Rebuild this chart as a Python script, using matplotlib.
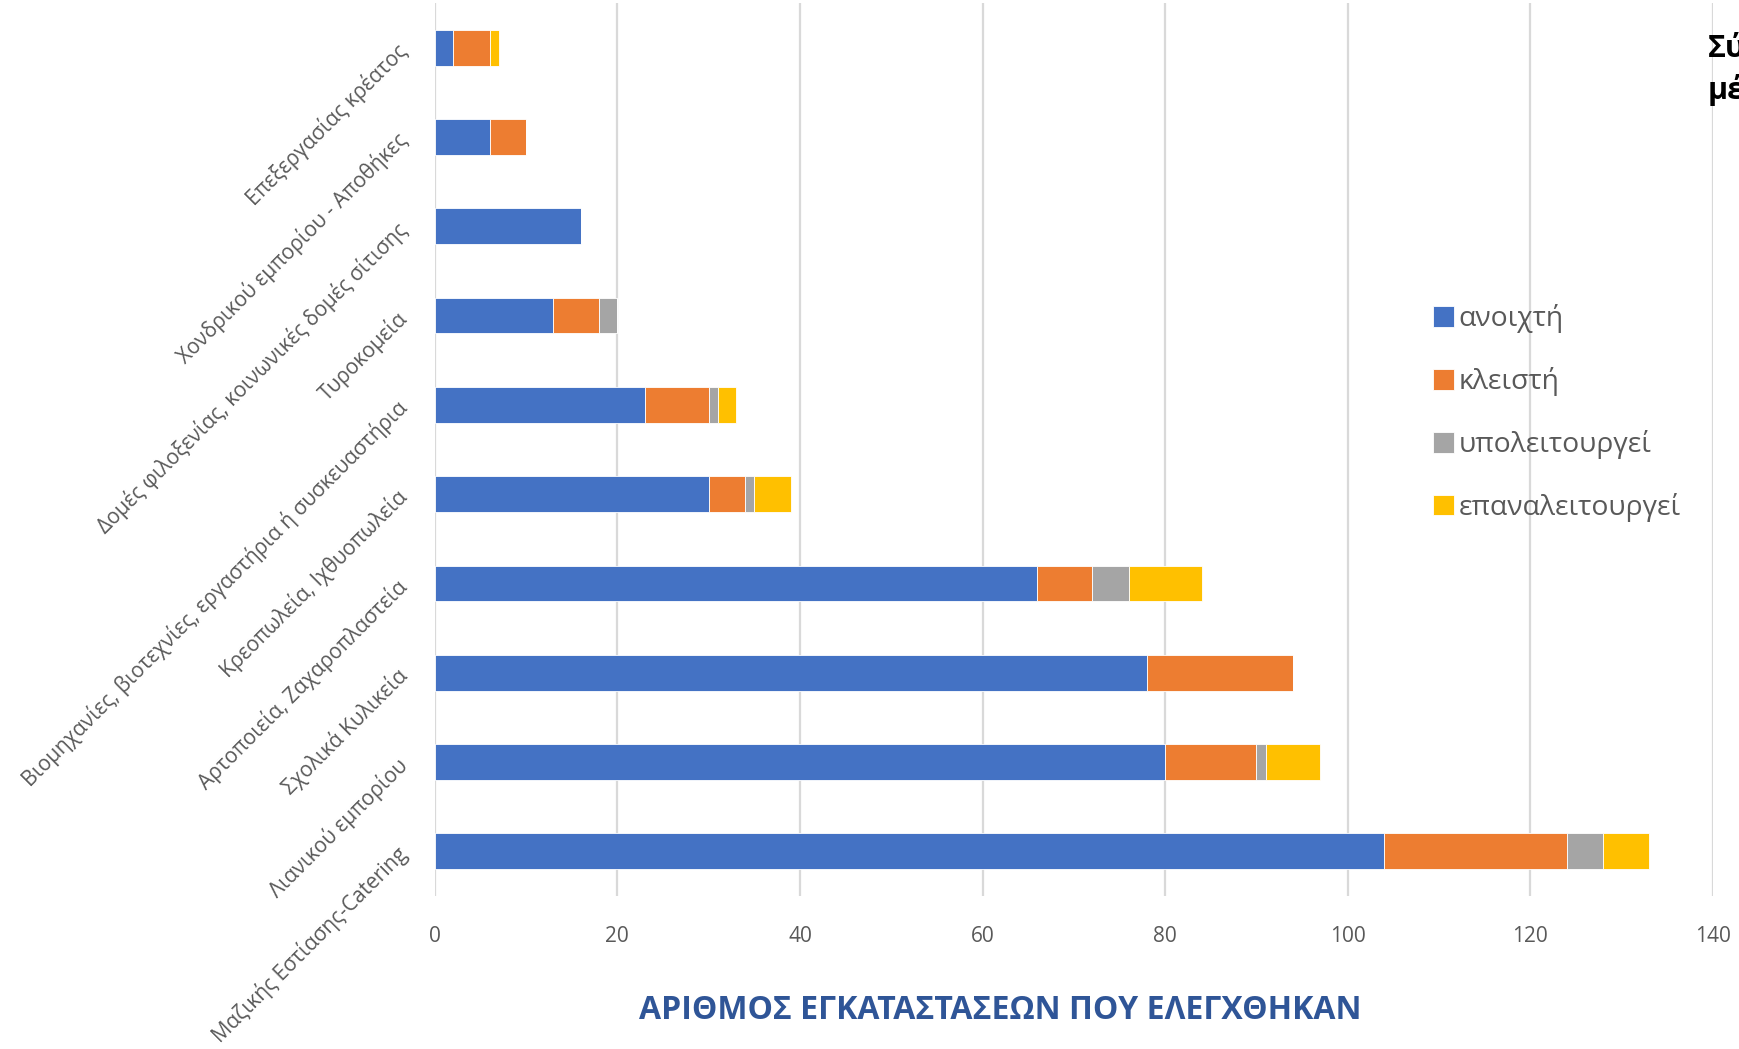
import matplotlib.pyplot as plt
import numpy as np

# categories from bottom to top
categories = ['Μαζικής Εστίασης-Catering', 'Λιανικού εμπορίου', 'Σχολικά Κυλικεία',
              'Αρτοποιεία, Ζαχαροπλαστεία', 'Κρεοπωλεία, Ιχθυοπωλεία',
              'Βιομηχανίες, βιοτεχνίες, εργαστήρια ή συσκευαστήρια', 'Τυροκομεία',
              'Δομές φιλοξενίας, κοινωνικές δομές σίτισης',
              'Χονδρικού εμπορίου - Αποθήκες', 'Επεξεργασίας κρέατος']
series_names = ['ανοιχτή', 'κλειστή', 'υπολειτουργεί', 'επαναλειτουργεί']
anoixti = [104, 80, 78, 66, 30, 23, 13, 16, 6, 2]
kleisti = [20, 10, 16, 6, 4, 7, 5, 0, 4, 4]
ypoleitourgei = [4, 1, 0, 4, 1, 1, 2, 0, 0, 0]
epanaleitourgei = [5, 6, 0, 8, 4, 2, 0, 0, 0, 1]
colors = ['#4472C4', '#ED7D31', '#A5A5A5', '#FFC000']
xticks = [0, 20, 40, 60, 80, 100, 120, 140]


def main():
	fig = plt.figure(figsize=(17.39, 10.49), dpi=100)
	ax = fig.add_axes([0.250, 0.146, 0.735, 0.851])

	idx = np.arange(len(categories))
	left = np.zeros(len(categories))
	for vals, name, c in zip([anoixti, kleisti, ypoleitourgei, epanaleitourgei], series_names, colors):
		ax.barh(idx, vals, 0.4, left=left, color=c, label=name, edgecolor='white', linewidth=0.6, zorder=3)
		left = left + np.array(vals)

	ax.set_xlim(0, 140)
	ax.set_ylim(-0.5, len(categories) - 0.5)
	ax.set_xticks(xticks)
	ax.set_xticklabels([str(t) for t in xticks], fontsize=15, color='#595959', family='Open Sans')
	ax.set_yticks(idx)
	ax.set_yticklabels(categories, rotation=45, ha='right', va='center', rotation_mode='anchor',
					   fontsize=15, color='#595959', family='Open Sans')
	ax.tick_params(axis='both', length=0)
	ax.tick_params(axis='x', pad=22)
	ax.tick_params(axis='y', pad=22)
	for s in ax.spines.values():
		s.set_visible(False)
	ax.grid(axis='x', color='#D9D9D9', linewidth=1.6, zorder=0)

	# axis title sits left of the plot centre in the original
	fig.text(0.575, 0.037, 'ΑΡΙΘΜΟΣ ΕΓΚΑΤΑΣΤΑΣΕΩΝ ΠΟΥ ΕΛΕΓΧΘΗΚΑΝ', fontsize=23, fontweight='bold',
			 color='#2F5597', family='Open Sans', ha='center', va='center')

	leg = fig.legend(loc='upper left', bbox_to_anchor=(0.8095, 0.734), frameon=False,
					 handlelength=0.75, handleheight=0.75, handletextpad=0.15, labelspacing=1.2,
					 prop={'family': 'Open Sans', 'size': 20.3})
	for t in leg.get_texts():
		t.set_color('#595959')

	fig.text(0.982, 0.968, 'Σύ\nμέ', fontsize=22, fontweight='bold', family='Open Sans',
			 ha='left', va='top', linespacing=1.4)

	fig.savefig('out.png', dpi=100)


if __name__ == '__main__':
	main()
